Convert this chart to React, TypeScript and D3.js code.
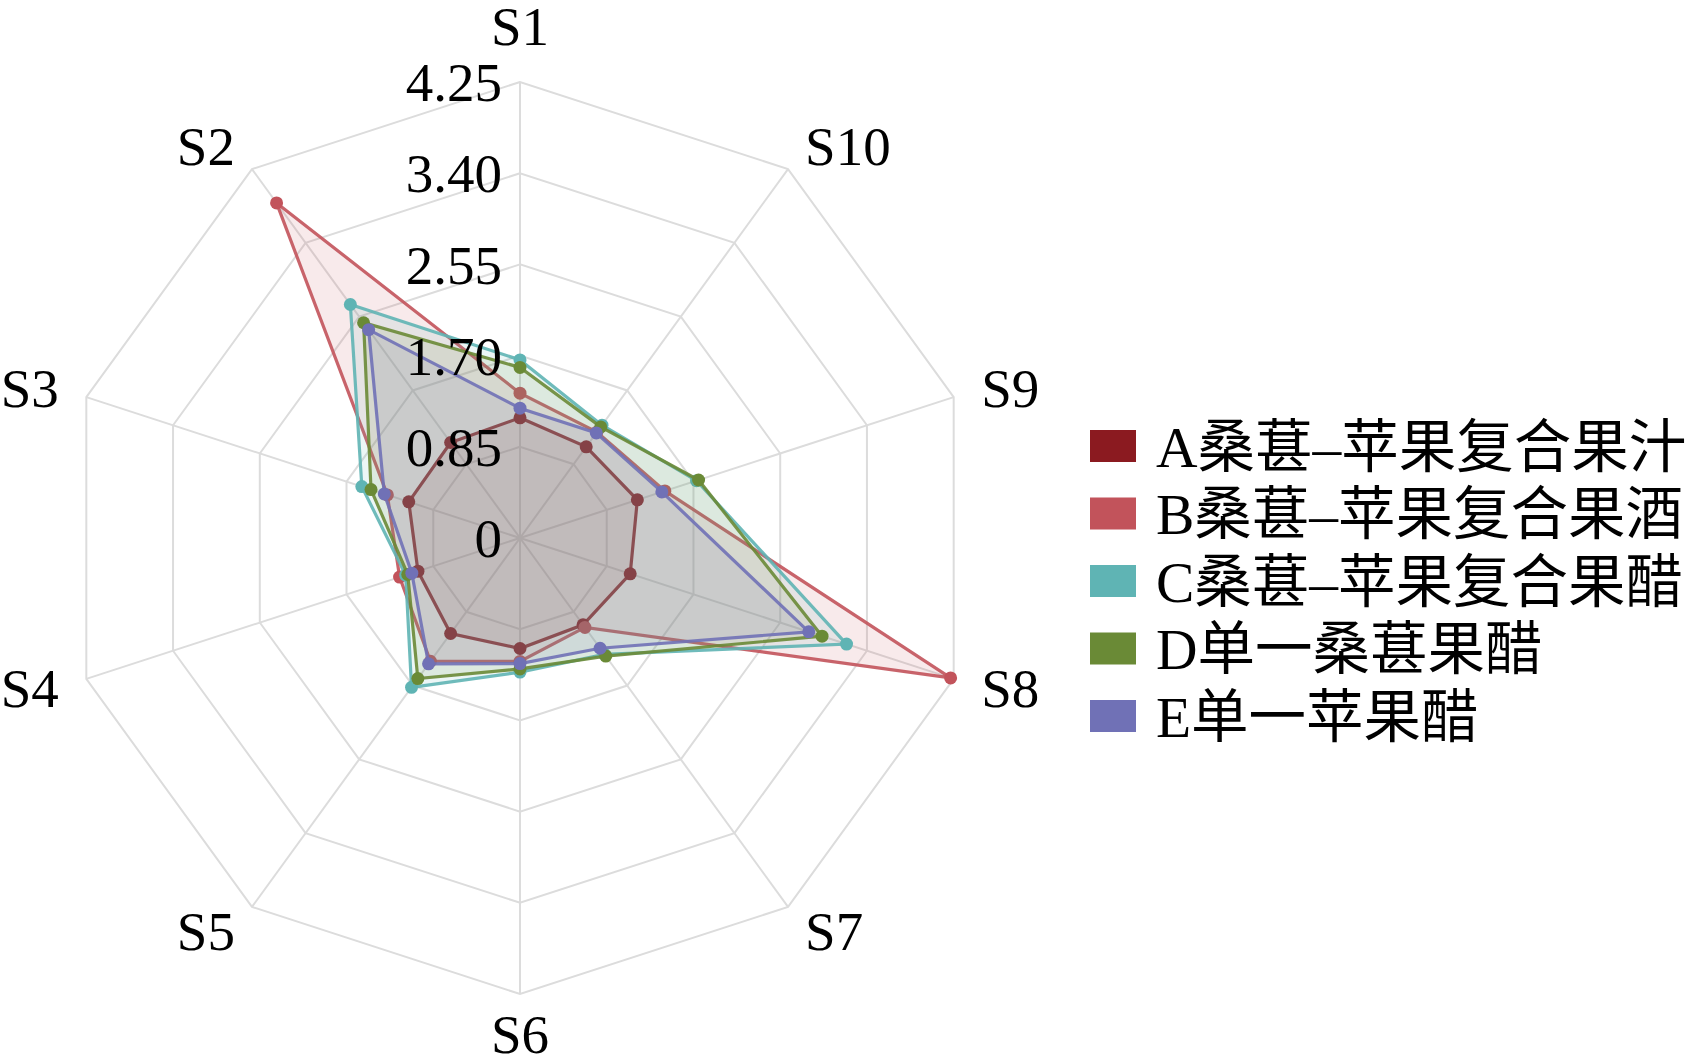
import { useRef, useEffect } from 'react';
import * as d3 from 'd3';

// axis labels, counter-clockwise from the top
const axes = ['S1', 'S2', 'S3', 'S4', 'S5', 'S6', 'S7', 'S8', 'S9', 'S10'];
const tickValues = [0, 0.85, 1.7, 2.55, 3.4, 4.25];
const tickLabels = ['0', '0.85', '1.70', '2.55', '3.40', '4.25'];

const seriesNames = [
  'A桑葚–苹果复合果汁',
  'B桑葚–苹果复合果酒',
  'C桑葚–苹果复合果醋',
  'D单一桑葚果醋',
  'E单一苹果醋',
];
const seriesColors = ['#8b1a20', '#c2535b', '#5fb4b4', '#6a8a36', '#7071b6'];

const valuesA = [1.12, 1.1, 1.09, 1.0, 1.1, 1.03, 1.0, 1.08, 1.15, 1.05];
const valuesB = [1.35, 3.86, 1.3, 1.18, 1.42, 1.15, 1.03, 4.22, 1.42, 1.22];
const valuesC = [1.66, 2.69, 1.55, 1.12, 1.72, 1.25, 1.34, 3.2, 1.73, 1.3];
const valuesD = [1.59, 2.48, 1.46, 1.1, 1.62, 1.22, 1.36, 2.96, 1.75, 1.28];
const valuesE = [1.21, 2.4, 1.33, 1.06, 1.45, 1.17, 1.27, 2.83, 1.39, 1.21];
const allValues = [valuesA, valuesB, valuesC, valuesD, valuesE];

const W = 1693;
const H = 1056;

export default function App() {
  const svgRef = useRef<SVGSVGElement>(null);

  useEffect(() => {
    if (!svgRef.current) return;
    const svg = d3.select(svgRef.current);
    svg.selectAll('*').remove();

    const cx = 520;
    const cy = 538;
    const r = d3.scaleLinear().domain([0, 4.25]).range([0, 456]);
    // S1 at the top, going counter-clockwise
    const angle = d3.scaleLinear().domain([0, axes.length]).range([0, -2 * Math.PI]);

    const pt = (i: number, v: number): [number, number] => {
      const a = angle(i);
      return [cx + Math.sin(a) * r(v), cy - Math.cos(a) * r(v)];
    };

    const g = svg.append('g');

    // grid rings
    tickValues.slice(1).forEach(t => {
      g.append('polygon')
        .attr('points', axes.map((_, i) => pt(i, t).join(',')).join(' '))
        .attr('fill', 'none')
        .attr('stroke', '#dcdcdc')
        .attr('stroke-width', 2);
    });

    // spokes
    axes.forEach((_, i) => {
      const [x, y] = pt(i, 4.25);
      g.append('line')
        .attr('x1', cx).attr('y1', cy)
        .attr('x2', x).attr('y2', y)
        .attr('stroke', '#dcdcdc')
        .attr('stroke-width', 2);
    });

    const line = d3.line<number>()
      .x((d, i) => pt(i, d)[0])
      .y((d, i) => pt(i, d)[1])
      .curve(d3.curveLinearClosed);

    allValues.forEach((vals, k) => {
      const color = seriesColors[k];
      g.append('path')
        .datum(vals)
        .attr('d', line)
        .attr('fill', color)
        .attr('fill-opacity', 0.12)
        .attr('stroke', color)
        .attr('stroke-width', 3.2)
        .attr('stroke-opacity', 0.9);
      vals.forEach((v, i) => {
        const [x, y] = pt(i, v);
        g.append('circle')
          .attr('cx', x).attr('cy', y)
          .attr('r', 6.5)
          .attr('fill', color);
      });
    });

    // tick labels
    tickValues.forEach((t, i) => {
      g.append('text')
        .attr('x', cx - 18)
        .attr('y', cy - r(t))
        .attr('dy', '0.35em')
        .attr('text-anchor', 'end')
        .attr('font-family', '"Liberation Serif", serif')
        .attr('font-size', 55)
        .attr('fill', '#000')
        .text(tickLabels[i]);
    });

    // axis labels
    const labelR = 485;
    axes.forEach((name, i) => {
      const a = angle(i);
      const sx = Math.sin(a);
      const cs = Math.cos(a);
      const x = cx + sx * labelR;
      const y = cy - cs * labelR;
      const t = g.append('text')
        .attr('x', x)
        .attr('font-family', '"Liberation Serif", serif')
        .attr('font-size', 55)
        .attr('fill', '#000')
        .text(name);
      if (Math.abs(sx) < 0.01) {
        t.attr('text-anchor', 'middle').attr('y', cs > 0 ? y - 8 : y + 30);
      } else {
        t.attr('text-anchor', sx < 0 ? 'end' : 'start').attr('y', y).attr('dy', '0.35em');
      }
    });

    // legend
    const legend = svg.append('g').attr('transform', 'translate(1090,446)');
    seriesNames.forEach((name, k) => {
      const y = k * 67.5;
      legend.append('rect')
        .attr('x', 0).attr('y', y - 16)
        .attr('width', 46).attr('height', 32)
        .attr('fill', seriesColors[k]);
      legend.append('text')
        .attr('x', 66).attr('y', y)
        .attr('dy', '0.36em')
        .attr('font-family', '"Liberation Serif", "Noto Sans CJK SC", serif')
        .attr('font-size', 57.5)
        .attr('fill', '#000')
        .text(name);
    });
  }, []);

  return (
    <div style={{ position: 'absolute', left: 0, top: 0, background: '#fff' }}>
      <svg ref={svgRef} width={W} height={H} style={{ display: 'block' }} />
    </div>
  );
}
